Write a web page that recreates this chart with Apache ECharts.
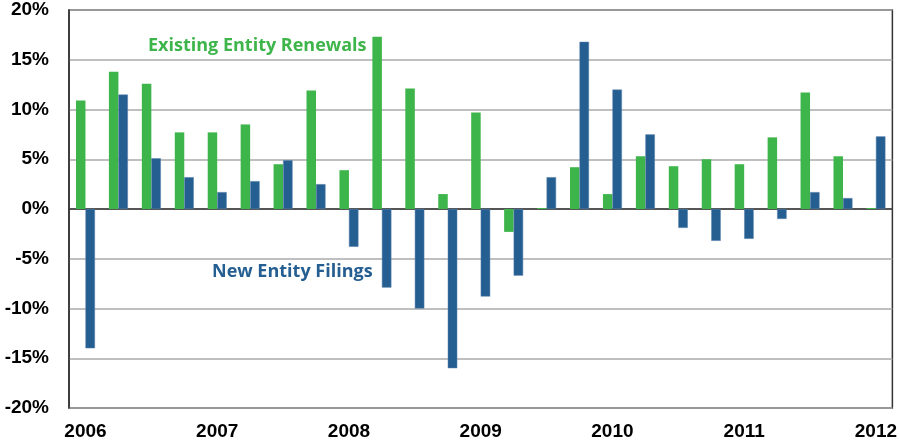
<!DOCTYPE html>
<html>
<head>
<meta charset="utf-8">
<script src="https://cdn.jsdelivr.net/npm/echarts@6/dist/echarts.min.js"></script>
<style>
  html, body { margin: 0; padding: 0; background: #fff; }
  #chart { width: 900px; height: 446px; }
</style>
</head>
<body>
<div id="chart"></div>
<script>
// quarters 2006 Q1 .. 2012 Q1
const quarters = ['2006','2006Q2','2006Q3','2006Q4','2007','2007Q2','2007Q3','2007Q4',
  '2008','2008Q2','2008Q3','2008Q4','2009','2009Q2','2009Q3','2009Q4',
  '2010','2010Q2','2010Q3','2010Q4','2011','2011Q2','2011Q3','2011Q4','2012'];

const renewals = [10.9, 13.8, 12.6, 7.7, 7.7, 8.5, 4.5, 11.9, 3.9, 17.3, 12.1, 1.5, 9.7,
  -2.3, 0.1, 4.2, 1.5, 5.3, 4.3, 5.0, 4.5, 7.2, 11.7, 5.3, 0.1];

const filings = [-14.0, 11.5, 5.1, 3.2, 1.7, 2.8, 4.9, 2.5, -3.8, -7.9, -10.0, -16.0, -8.8,
  -6.7, 3.2, 16.8, 12.0, 7.5, -1.9, -3.2, -3.0, -1.0, 1.7, 1.1, 7.3];

const green = '#3db54a';
const blue = '#255e91';
const axisFont = '"Liberation Sans Narrow", "Arial Narrow", Arial, sans-serif';

let myChart = echarts.init(document.getElementById('chart'));

let option = {
  animation: false,
  grid: {
    left: 69, top: 10, right: 5, bottom: 38,
    show: true, borderColor: '#333', borderWidth: 1.5
  },
  xAxis: {
    type: 'category',
    data: quarters,
    axisLine: { lineStyle: { color: '#333', width: 1.5 } },
    axisTick: { show: false },
    axisLabel: {
      interval: 3,
      margin: 14,
      color: '#000',
      fontWeight: 'bold',
      fontSize: 19,
      fontFamily: axisFont,
      formatter: (v) => v.slice(0, 4)
    }
  },
  yAxis: {
    type: 'value',
    min: -20, max: 20, interval: 5,
    axisLine: { show: true, lineStyle: { color: '#333', width: 1.5 } },
    axisTick: { show: false },
    splitLine: { lineStyle: { color: '#aaa', width: 1.5 } },
    axisLabel: {
      margin: 20,
      color: '#000',
      fontWeight: 'bold',
      fontSize: 19,
      fontFamily: axisFont,
      formatter: '{value}%'
    }
  },
  series: [
    {
      name: 'Existing Entity Renewals',
      type: 'bar',
      data: renewals,
      barWidth: 9.5,
      barGap: '0%',
      itemStyle: { color: green }
    },
    {
      name: 'New Entity Filings',
      type: 'bar',
      data: filings,
      barWidth: 9.5,
      itemStyle: { color: blue, borderColor: '#5b83ad', borderWidth: 0.5 }
    }
  ],
  graphic: [
    {
      type: 'text', left: 148, top: 37,
      style: {
        text: 'Existing Entity Renewals', fill: green,
        font: 'bold 18px "Open Sans", Lato, sans-serif'
      }
    },
    {
      type: 'text', left: 212, top: 263,
      style: {
        text: 'New Entity Filings', fill: blue,
        font: 'bold 18px "Open Sans", Lato, sans-serif'
      }
    }
  ]
};

myChart.setOption(option);
</script>
</body>
</html>
